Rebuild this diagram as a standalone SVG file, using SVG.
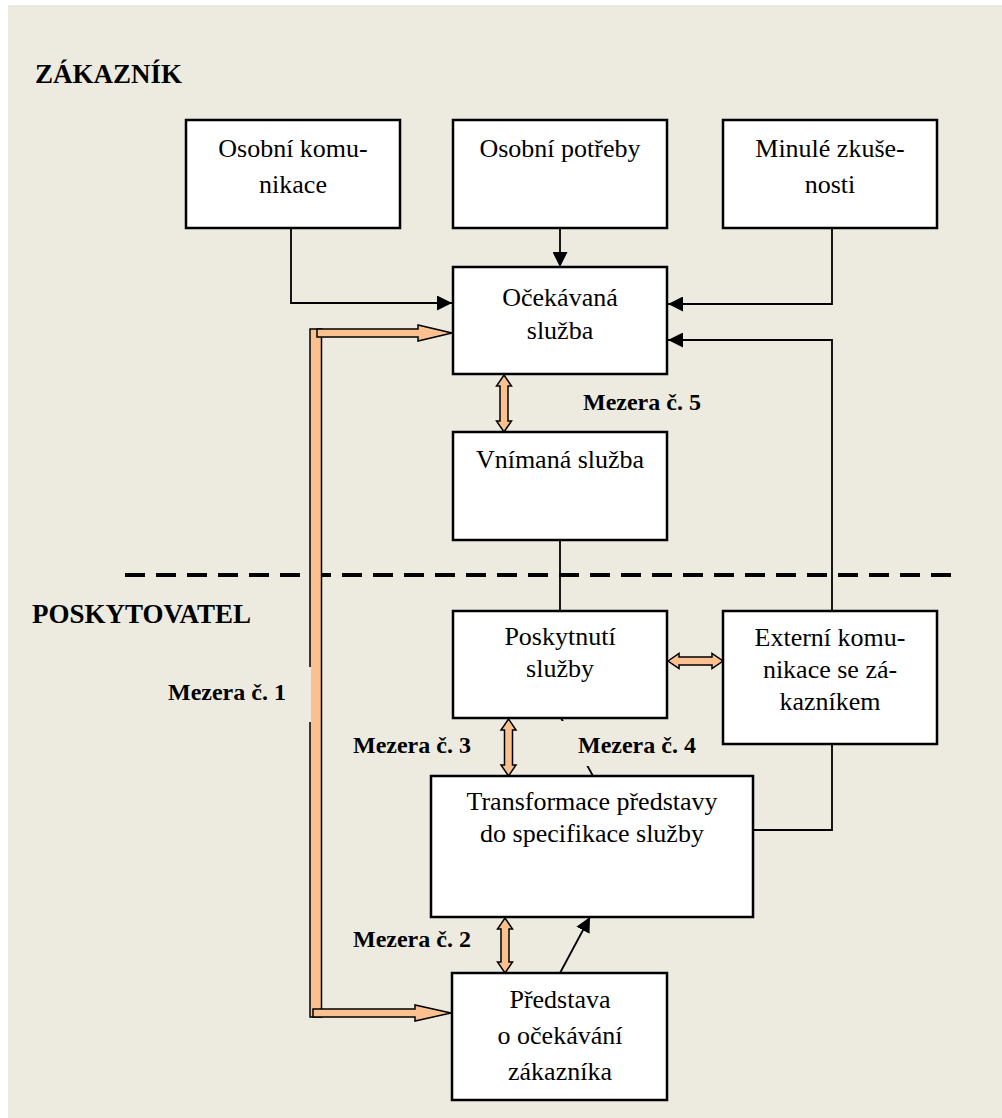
<svg xmlns="http://www.w3.org/2000/svg" width="1002" height="1118" viewBox="0 0 1002 1118">
<defs>
<style>
.box{fill:#fff;stroke:#000;stroke-width:2.5}
.t{font-family:"Liberation Serif","Times New Roman",serif;font-size:26px;text-anchor:middle;fill:#000}
.lbl{font-family:"Liberation Serif","Times New Roman",serif;font-size:24px;font-weight:bold;fill:#000}
.h{font-family:"Liberation Serif","Times New Roman",serif;font-size:27px;font-weight:bold;fill:#000}
.conn{fill:none;stroke:#000;stroke-width:1.8}
.or{fill:#FAC090;stroke:#000;stroke-width:1.5;stroke-linejoin:miter}
</style>
<marker id="ah" markerUnits="userSpaceOnUse" markerWidth="15" markerHeight="15" refX="15" refY="7.5" orient="auto">
<path d="M0,0 L15,7.5 L0,15 Z" fill="#000"/>
</marker>
</defs>
<rect x="8" y="5" width="994" height="1113" fill="#EDEBE0"/>
<text class="h" x="35" y="83">ZÁKAZNÍK</text>
<text class="h" x="32" y="623">POSKYTOVATEL</text>
<path d="M125,575 L955,575" stroke="#000" stroke-width="4" stroke-dasharray="20 11" fill="none"/>

<g id="connectors">
<path class="conn" d="M291,228 L291,303 L452,303" marker-end="url(#ah)"/>
<path class="conn" d="M560,228 L560,267" marker-end="url(#ah)"/>
<path class="conn" d="M832,228 L832,304 L668,304" marker-end="url(#ah)"/>
<path class="conn" d="M832,611 L832,340 L668,340" marker-end="url(#ah)"/>
<path class="conn" d="M560,540 L560,611"/>
<path class="conn" d="M832,744 L832,830 L753,830"/>
<path class="conn" d="M560,973 L590,917" marker-end="url(#ah)"/>
<path class="conn" d="M561,718 L593,776"/>
<rect x="552" y="721" width="50" height="45" fill="#EDEBE0"/>
<rect x="310" y="329" width="11.5" height="688" class="or"/>
<rect x="308.4" y="667" width="2.6" height="55" fill="#EDEBE0"/>
<path class="or" d="M317,329 L418,329 L418,325 L452,333 L418,341 L418,337 L317,337 Z"/>
<path class="or" d="M313,1009 L415,1009 L415,1005 L451,1013 L415,1021 L415,1017 L313,1017 Z"/>
<path class="or" d="M504,375 L511.5,386 L508,386 L508,421 L511.5,421 L504,432 L496.5,421 L500,421 L500,386 L496.5,386 Z"/>
<path class="or" d="M508.5,719 L516,730 L512.5,730 L512.5,765 L516,765 L508.5,776 L501,765 L504.5,765 L504.5,730 L501,730 Z"/>
<path class="or" d="M505,918 L512.5,929 L509,929 L509,962 L512.5,962 L505,973 L497.5,962 L501,962 L501,929 L497.5,929 Z"/>
<path class="or" d="M668,661 L679,653.5 L679,657 L712,657 L712,653.5 L723,661 L712,668.5 L712,665 L679,665 L679,668.5 Z"/>
</g>

<g id="labels">
<text class="lbl" x="583" y="410">Mezera č. 5</text>
<text class="lbl" x="168" y="700">Mezera č. 1</text>
<text class="lbl" x="353" y="753">Mezera č. 3</text>
<text class="lbl" x="578" y="753">Mezera č. 4</text>
<text class="lbl" x="353" y="947">Mezera č. 2</text>
</g>

<g id="n1"><rect class="box" x="186" y="120" width="214" height="108"/>
<text class="t" x="293" y="157">Osobní komu-</text><text class="t" x="293" y="193">nikace</text></g>
<g id="n2"><rect class="box" x="453" y="120" width="214" height="108"/>
<text class="t" x="560" y="157">Osobní potřeby</text></g>
<g id="n3"><rect class="box" x="723" y="120" width="214" height="108"/>
<text class="t" x="830" y="157">Minulé zkuše-</text><text class="t" x="830" y="193">nosti</text></g>
<g id="n4"><rect class="box" x="453" y="267" width="214" height="107"/>
<text class="t" x="560" y="306">Očekávaná</text><text class="t" x="560" y="339">služba</text></g>
<g id="n5"><rect class="box" x="453" y="432" width="214" height="108"/>
<text class="t" x="560" y="468">Vnímaná služba</text></g>
<g id="n6"><rect class="box" x="453" y="611" width="214" height="107"/>
<text class="t" x="560" y="645">Poskytnutí</text><text class="t" x="560" y="677">služby</text></g>
<g id="n7"><rect class="box" x="723" y="611" width="214" height="133"/>
<text class="t" x="830" y="646">Externí komu-</text><text class="t" x="830" y="678">nikace se zá-</text><text class="t" x="830" y="710">kazníkem</text></g>
<g id="n8"><rect class="box" x="431" y="776" width="322" height="141"/>
<text class="t" x="592" y="810">Transformace představy</text><text class="t" x="592" y="842">do specifikace služby</text></g>
<g id="n9"><rect class="box" x="452" y="973" width="215" height="127"/>
<text class="t" x="560" y="1008">Představa</text><text class="t" x="560" y="1044">o očekávání</text><text class="t" x="560" y="1080">zákazníka</text></g>
</svg>
